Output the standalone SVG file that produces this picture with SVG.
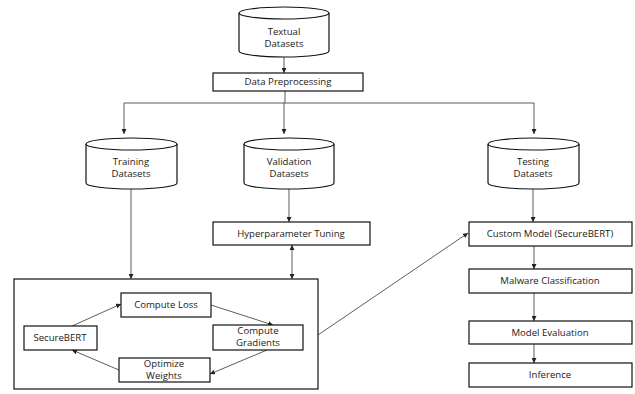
<svg xmlns="http://www.w3.org/2000/svg" width="635" height="394" viewBox="0 0 635 394">
<defs>
<marker id="ah" viewBox="0 0 6 6" refX="6" refY="3" markerWidth="5" markerHeight="5" orient="auto-start-reverse" markerUnits="userSpaceOnUse">
<path d="M0,0 L6,3 L0,6 z" fill="#222"/>
</marker>
<style>
.box{fill:#fff;stroke:#111;stroke-width:1.2}
.cyl{fill:#fff;stroke:#111;stroke-width:1.2}
.t{font-family:"Open Sans","Liberation Sans",sans-serif;font-size:9.6px;font-weight:500;fill:#1a1a1a;text-anchor:middle;dominant-baseline:middle}
.c{fill:none;stroke:#333;stroke-width:0.8}
</style>
</defs>
<rect width="635" height="394" fill="#fff"/>
<g id="training-loop">
<rect class="box" x="14" y="279" width="304" height="110"/>
</g>
<g id="connectors">
<line class="c" x1="284" y1="57" x2="284" y2="73" marker-end="url(#ah)"/>
<polyline class="c" points="285,91 285,103"/>
<polyline class="c" points="124,103 534,103"/>
<line class="c" x1="124" y1="103" x2="124" y2="134" marker-end="url(#ah)"/>
<line class="c" x1="284" y1="103" x2="284" y2="134" marker-end="url(#ah)"/>
<line class="c" x1="534" y1="103" x2="534" y2="134" marker-end="url(#ah)"/>
<line class="c" x1="131" y1="189" x2="131" y2="279" marker-end="url(#ah)"/>
<line class="c" x1="289" y1="189" x2="289" y2="222" marker-end="url(#ah)"/>
<line class="c" x1="292" y1="245" x2="292" y2="279" marker-start="url(#ah)" marker-end="url(#ah)"/>
<line class="c" x1="318" y1="335" x2="468" y2="233" marker-end="url(#ah)"/>
<line class="c" x1="533" y1="189" x2="533" y2="222" marker-end="url(#ah)"/>
<line class="c" x1="534" y1="246" x2="534" y2="269" marker-end="url(#ah)"/>
<line class="c" x1="534" y1="293" x2="534" y2="321" marker-end="url(#ah)"/>
<line class="c" x1="534" y1="344" x2="534" y2="363" marker-end="url(#ah)"/>
<line class="c" x1="72" y1="326" x2="121" y2="304" marker-end="url(#ah)"/>
<line class="c" x1="211" y1="305" x2="273" y2="325" marker-end="url(#ah)"/>
<line class="c" x1="267" y1="350" x2="210" y2="374" marker-end="url(#ah)"/>
<line class="c" x1="119" y1="370" x2="72" y2="350" marker-end="url(#ah)"/>
</g>
<g id="textual">
<path class="cyl" d="M239,13 A45,6 0 0 1 329,13 L329,51 A45,6 0 0 1 239,51 Z"/>
<path class="cyl" d="M239,13 A45,6 0 0 0 329,13" fill="none"/>
<text class="t" x="284" y="32">Textual</text>
<text class="t" x="284" y="44">Datasets</text>
</g>
<g id="preproc">
<rect class="box" x="213" y="73" width="150" height="18"/>
<text class="t" x="288" y="82">Data Preprocessing</text>
</g>
<g id="training">
<path class="cyl" d="M86,144 A45.5,6 0 0 1 177,144 L177,183 A45.5,6 0 0 1 86,183 Z"/>
<path class="cyl" d="M86,144 A45.5,6 0 0 0 177,144" fill="none"/>
<text class="t" x="131" y="162">Training</text>
<text class="t" x="131" y="174">Datasets</text>
</g>
<g id="validation">
<path class="cyl" d="M244,144 A45,6 0 0 1 334,144 L334,183 A45,6 0 0 1 244,183 Z"/>
<path class="cyl" d="M244,144 A45,6 0 0 0 334,144" fill="none"/>
<text class="t" x="289" y="162">Validation</text>
<text class="t" x="289" y="174">Datasets</text>
</g>
<g id="testing">
<path class="cyl" d="M488,144 A45.5,6 0 0 1 579,144 L579,183 A45.5,6 0 0 1 488,183 Z"/>
<path class="cyl" d="M488,144 A45.5,6 0 0 0 579,144" fill="none"/>
<text class="t" x="533" y="162">Testing</text>
<text class="t" x="533" y="174">Datasets</text>
</g>
<g id="hyper">
<rect class="box" x="213" y="222" width="157" height="23"/>
<text class="t" x="291" y="234">Hyperparameter Tuning</text>
</g>
<g id="loss">
<rect class="box" x="121" y="293" width="90" height="24"/>
<text class="t" x="166" y="305">Compute Loss</text>
</g>
<g id="securebert">
<rect class="box" x="24" y="326" width="73" height="24"/>
<text class="t" x="60" y="338">SecureBERT</text>
</g>
<g id="gradients">
<rect class="box" x="213" y="325" width="90" height="25"/>
<text class="t" x="258" y="331.5">Compute</text>
<text class="t" x="258" y="343.5">Gradients</text>
</g>
<g id="optimize">
<rect class="box" x="119" y="358" width="91" height="24"/>
<text class="t" x="164" y="364.5">Optimize</text>
<text class="t" x="164" y="376.5">Weights</text>
</g>
<g id="custom">
<rect class="box" x="469" y="222" width="163" height="24"/>
<text class="t" x="550" y="234">Custom Model (SecureBERT)</text>
</g>
<g id="malware">
<rect class="box" x="469" y="269" width="163" height="24"/>
<text class="t" x="550" y="281">Malware Classification</text>
</g>
<g id="evaluation">
<rect class="box" x="469" y="321" width="163" height="23"/>
<text class="t" x="550" y="333">Model Evaluation</text>
</g>
<g id="inference">
<rect class="box" x="469" y="363" width="163" height="24"/>
<text class="t" x="550" y="375">Inference</text>
</g>
</svg>
